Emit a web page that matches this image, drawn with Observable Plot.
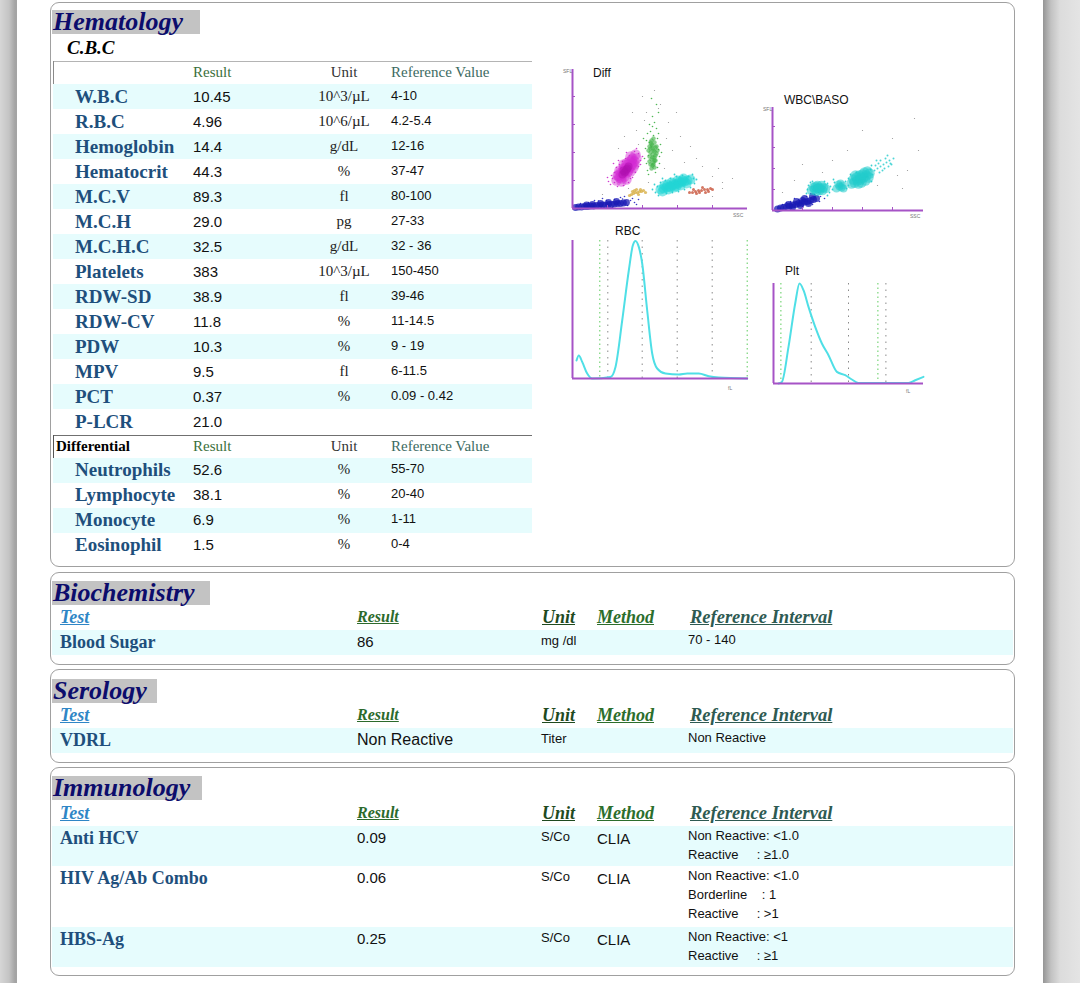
<!DOCTYPE html>
<html><head><meta charset="utf-8">
<script src="https://cdn.jsdelivr.net/npm/d3@7"></script>
<script src="https://cdn.jsdelivr.net/npm/@observablehq/plot@0.6"></script>
<style>
html,body{margin:0;padding:0;}
body{width:1080px;height:983px;overflow:hidden;background:#fff;}
#page{position:absolute;left:0;top:0;width:1080px;height:983px;overflow:hidden;
 background:linear-gradient(to right,#d6d6d6 0px,#c4c4c4 9px,#a4a4a4 15px,#a4a4a4 17px,#ffffff 17px,#ffffff 1043px,#959595 1043px,#c2c2c2 1051px,#dcdcdc 1060px,#e4e4e4 1080px);}
.box{position:absolute;border:1.5px solid #a0a0a0;border-radius:9px;box-sizing:border-box;background:transparent;}
.t{position:absolute;white-space:pre;line-height:20px;height:20px;}
.serif{font-family:"Liberation Serif","Times New Roman",serif;}
.sans{font-family:"Liberation Sans",Arial,sans-serif;}
.lab{font-family:"Liberation Serif","Times New Roman",serif;font-weight:bold;font-size:19px;color:#1e4f7c;}
.val{font-family:"Liberation Sans",Arial,sans-serif;font-size:15px;color:#111;}
.unit{font-family:"Liberation Serif","Times New Roman",serif;font-size:15px;color:#222;text-align:center;width:90px;}
.ref{font-family:"Liberation Sans",Arial,sans-serif;font-size:13px;color:#111;}
.sec{position:absolute;background:#c3c3c3;font-family:"Liberation Serif","Times New Roman",serif;font-weight:bold;font-style:italic;font-size:26px;color:#0c0c6c;line-height:24px;height:24px;padding-left:1px;overflow:visible;white-space:pre;}
.hd{font-family:"Liberation Serif","Times New Roman",serif;font-weight:bold;font-style:italic;font-size:18px;text-decoration:underline;}
.ctitle{font-family:"Liberation Sans",Arial,sans-serif;font-size:12px;color:#111;}
.tiny{position:absolute;white-space:pre;font-family:"Liberation Sans",Arial,sans-serif;font-size:5px;color:#777;line-height:6px;height:6px;}
svg.plot{background:transparent !important;}
</style>
</head><body><div id="page"></div>
<script>
// ---------------- DATA ----------------
const cbcTests   = ["W.B.C","R.B.C","Hemoglobin","Hematocrit","M.C.V","M.C.H","M.C.H.C","Platelets","RDW-SD","RDW-CV","PDW","MPV","PCT","P-LCR"];
const cbcResults = ["10.45","4.96","14.4","44.3","89.3","29.0","32.5","383","38.9","11.8","10.3","9.5","0.37","21.0"];
const cbcUnits   = ["10^3/\u00b5L","10^6/\u00b5L","g/dL","%","fl","pg","g/dL","10^3/\u00b5L","fl","%","%","fl","%",""];
const cbcRefs    = ["4-10","4.2-5.4","12-16","37-47","80-100","27-33","32 - 36","150-450","39-46","11-14.5","9 - 19","6-11.5","0.09 - 0.42",""];
const tableHeaders = ["Result","Unit","Reference Value"];

const diffTests   = ["Neutrophils","Lymphocyte","Monocyte","Eosinophil"];
const diffResults = ["52.6","38.1","6.9","1.5"];
const diffUnits   = ["%","%","%","%"];
const diffRefs    = ["55-70","20-40","1-11","0-4"];

const sectionHeaders = ["Test","Result","Unit","Method","Reference Interval"];
const bioTests = ["Blood Sugar"], bioResults = ["86"], bioUnits = ["mg /dl"], bioMethods = [""], bioRefs = [["70 - 140"]];
const seroTests = ["VDRL"], seroResults = ["Non Reactive"], seroUnits = ["Titer"], seroMethods = [""], seroRefs = [["Non Reactive"]];
const immTests   = ["Anti HCV","HIV Ag/Ab Combo","HBS-Ag"];
const immResults = ["0.09","0.06","0.25"];
const immUnits   = ["S/Co","S/Co","S/Co"];
const immMethods = ["CLIA","CLIA","CLIA"];
const immRefs    = [["Non Reactive: <1.0","Reactive     : \u22651.0"],
                    ["Non Reactive: <1.0","Borderline    : 1","Reactive     : >1"],
                    ["Non Reactive: <1","Reactive     : \u22651"]];

// Diff scatter (x: side scatter, y: fluorescence)
const diffXTicks = [35,70,105,140], diffYTicks = [28,56,84,112];
const diffBlue = [[3,1],[6,1.5],[9,1.5],[12,2],[15,2],[18,2.5],[21,2.5],[24,3],[27,3],[30,3.5],[33,3.5],[36,4],[39,4],[42,4.5],[45,5],[48,5],[51,5.5],[54,6],[20,4],[28,5],[36,6],[44,7],[14,3.5]];
const diffBlueHalo = [[8,5],[16,6],[26,7.5],[34,8],[42,9],[50,9.5],[58,8],[62,6],[60,10],[48,11],[30,10],[55,3],[40,1],[64,4],[66,9],[52,12],[22,8]];
const diffMagenta = [[44,28],[47,31],[50,34],[53,37],[56,40],[59,43],[62,47],[64,50],[48,36],[52,32],[55,44],[58,37],[60,50],[46,33],[51,40],[57,47],[54,29],[49,27],[61,41],[63,54],[53,41],[56,38],[55,36],[45,33],[49,30],[52,39],[57,42],[60,45],[59,48],[62,44],[50,36],[54,45],[47,38],[51,44],[58,52]];
const diffMagentaCore = [[50,34],[53,37],[55,40],[52,36],[54,39],[51,38],[56,42]];
const diffMagentaHalo = [[38,24],[40,30],[42,36],[44,41],[47,44],[50,47],[53,50],[57,53],[62,57],[66,55],[68,48],[66,42],[63,36],[60,31],[56,26],[51,23],[45,22],[36,27],[41,45],[54,56],[70,52],[39,33],[42,26],[46,48],[64,60],[68,44],[58,30],[35,31]];
const diffGreen = [[79,40],[80,43],[81,46],[79,49],[82,51],[80,54],[78,56],[81,58],[83,61],[80,63],[82,66],[79,68],[77,47],[84,55],[81,44],[78,60],[83,48],[80,51],[82,57],[79,64],[77,52],[84,62],[78,44],[82,41],[76,58],[85,58],[81,70],[78,66],[83,53],[77,62],[80,60],[82,48]];
const diffGreenHalo = [[75,38],[85,41],[76,53],[86,59],[77,66],[85,70],[81,73],[78,77],[84,80],[74,45],[87,52],[83,36],[76,34],[82,86],[80,92],[86,96],[73,60],[88,64],[77,84],[84,104],[79,110],[71,70],[74,68],[87,45],[72,50],[86,75],[80,82],[75,75],[89,56]];
const diffYellow = [[59,14],[61,15],[63,16],[65,16],[67,17],[69,17],[71,18],[62,18],[66,14],[68,19],[57,13],[73,16],[64,19],[60,17]];
const diffCyan = [[88,19],[91,20],[94,21],[97,22],[100,23],[103,24],[106,25],[109,26],[112,27],[115,28],[92,23],[96,19],[99,26],[102,21],[105,28],[108,23],[111,30],[114,25],[118,29],[90,17],[95,24],[101,25],[107,27],[104,22],[98,21],[110,28]];
const diffCyanHalo = [[83,16],[85,22],[88,26],[93,28],[98,30],[104,32],[110,33],[116,32],[121,30],[122,25],[118,21],[112,19],[106,17],[100,16],[94,15],[86,13],[124,29],[80,19],[82,24],[120,34],[102,34],[90,30]];
const diffRed = [[117,16],[120,16],[123,17],[126,18],[129,18],[132,19],[135,19],[138,20],[124,15],[130,21],[127,16],[136,17],[140,19],[121,19],[133,16]];
const diffMisc = [[52,72],[60,96],[70,112],[88,104],[96,86],[108,72],[100,58],[118,62],[130,42],[140,32],[150,26],[74,96],[64,78],[46,60],[112,46],[92,40],[86,100],[104,96],[146,40],[160,30],[82,118],[72,88],[94,70],[124,50],[66,64],[56,20],[76,26],[140,12],[150,20],[30,14]];

// WBC\BASO scatter
const wbXTicks = [30,60,90,120], wbYTicks = [21,42,63,84];
const wbBlue = [[5,1.5],[8,2.5],[11,3],[14,4],[17,4.5],[20,5.5],[23,6],[26,7],[29,7.5],[32,8.5],[35,9],[38,10],[41,11],[44,12],[20,3],[28,5],[36,7],[24,9],[32,12],[40,14],[16,6],[30,10]];
const wbBlueHalo = [[10,6],[18,9],[26,11],[34,14],[42,16],[48,14],[47,9],[40,6],[30,4],[52,12],[14,8],[38,17],[46,18],[22,12]];
const wbCyan1 = [[39,20],[42,21],[45,22],[48,22],[51,23],[43,24],[47,20],[41,23],[50,20],[45,25],[53,22],[44,19],[49,25],[46,23]];
const wbCyan2 = [[64,22],[67,24],[70,25],[68,27],[71,22],[66,26],[69,23]];
const wbCyan3 = [[79,27],[82,28],[85,30],[88,31],[91,33],[94,35],[97,37],[84,33],[89,28],[93,30],[87,35],[92,38],[96,33],[81,31],[86,27],[90,36],[95,39],[83,35],[88,33]];
const wbCyanSparse = [[102,40],[105,42],[108,44],[111,46],[114,48],[117,50],[106,47],[110,40],[113,52],[119,46],[104,50],[116,44],[100,36],[108,50],[121,52],[112,42],[103,45],[115,55],[107,38],[118,47]];
const wbCyanHalo = [[34,17],[36,25],[38,28],[55,27],[57,18],[60,21],[62,28],[74,22],[76,32],[78,36],[99,29],[98,41],[84,38],[61,31],[55,15],[73,29],[35,21],[58,24],[40,29],[52,29],[76,25],[99,45]];
const wbMisc = [[22,30],[60,50],[120,72],[142,92],[90,80],[30,46],[130,22],[146,60],[75,60],[135,40],[50,38],[105,25],[125,35],[10,18]];

// RBC histogram
const rbcCurve = [[4,18],[6.3,23],[9.7,16.6],[14.7,5],[19.7,0],[38,1.6],[43,11.6],[49.7,58],[56.3,108],[60.3,133],[63,137.6],[66.3,131.6],[69.7,115],[74.7,68],[79.7,25],[84.7,10],[93,5],[106.3,4],[114.7,5],[126.3,5],[136.3,2.3],[146.3,1],[174.7,0]];
const rbcGreenLines = [27.3,174.7], rbcGrayLines = [35.3,69.7,104.7,139.7];
// PLT histogram
const pltCurve = [[5,0],[8.4,1.6],[15,36.6],[21.7,80],[26,100],[30,93.3],[35,76.6],[41.7,56.6],[48.4,40],[55,28.3],[63.4,11.6],[71.7,8.3],[78.4,4],[85,0.6],[135,0.6],[141.7,3.3],[150,6.6]];
const pltGreenLines = [7.4,104.4], pltGrayLines = [37.7,75,112.4];

// ---------------- LAYOUT ----------------
const page = document.getElementById("page");
function el(cls, x, y, text, style) {
  const d = document.createElement("div");
  d.className = cls;
  if (text != null) d.textContent = text;
  d.style.left = x + "px"; d.style.top = y + "px";
  if (style) Object.assign(d.style, style);
  page.appendChild(d);
  return d;
}
function put(cls, x, cy, text, style) { return el("t " + cls, x, cy - 10, text, style); }
function box(x, y, w, h, style) { return el("box", x, y, null, Object.assign({width: w + "px", height: h + "px"}, style || {})); }
function band(x, y, w, h, color) { return el("t", x, y, null, {width: w + "px", height: h + "px", background: color}); }
const stripe = "#e6fcfd";

// boxes
box(50, 2, 965, 565);
box(50, 572, 965, 93);
box(50, 669, 965, 94);
box(50, 767, 965, 209);

// section titles
function sectionTitle(x, y, w, text) { el("sec", x, y, text, {width: w + "px"}); }
sectionTitle(52, 10, 147, "Hematology");
sectionTitle(52, 581, 157, "Biochemistry");
sectionTitle(52, 679, 104, "Serology");
sectionTitle(52, 776, 149, "Immunology");

put("serif", 67, 48, "C.B.C", {fontWeight: "bold", fontStyle: "italic", fontSize: "19px", color: "#000"});

// CBC table
const rowH = 25, cbcTop = 84;
cbcTests.forEach((t, i) => { if (i % 2 === 0) band(53, cbcTop + i * rowH, 479, rowH, stripe); });
el("t", 53, 61, null, {width: "479px", height: "1px", background: "#b4b4b4"});
el("t", 53, 61, null, {width: "1px", height: "23px", background: "#8a8a8a"});
const hdrColors = ["#3b6f3b", "#333", "#3d6b62"];
function tableHeader(cy) {
  put("serif", 193, cy, tableHeaders[0], {fontSize: "15px", color: hdrColors[0]});
  put("serif", 299, cy, tableHeaders[1], {fontSize: "15px", color: hdrColors[1], width: "90px", textAlign: "center"});
  put("serif", 391, cy, tableHeaders[2], {fontSize: "15px", color: hdrColors[2]});
}
tableHeader(72);
cbcTests.forEach((t, i) => {
  const cy = cbcTop + i * rowH + 13;
  put("lab", 75, cy, t);
  put("val", 193, cy, cbcResults[i]);
  put("unit", 299, cy - 1, cbcUnits[i]);
  put("ref", 391, cy - 1, cbcRefs[i]);
});
// Differential
el("t", 53, 435, null, {width: "479px", height: "1px", background: "#707070"});
el("t", 53, 435, null, {width: "1px", height: "23px", background: "#555"});
put("serif", 56, 446, "Differential", {fontWeight: "bold", fontSize: "15px", color: "#000"});
tableHeader(446);
const diffTop = 458;
diffTests.forEach((t, i) => {
  if (i % 2 === 0) band(53, diffTop + i * rowH, 479, rowH, stripe);
});
diffTests.forEach((t, i) => {
  const cy = diffTop + i * rowH + 12;
  put("lab", 75, cy, t);
  put("val", 193, cy, diffResults[i]);
  put("unit", 299, cy - 1, diffUnits[i]);
  put("ref", 391, cy - 1, diffRefs[i]);
});

// lower sections
const secCols = [60, 357, 542, 597, 690];
const secHdrColors = ["#2f86c6", "#2c6a2c", "#1f4a1f", "#2c6e2c", "#2e5a52"];
const secHdrSizes = [18, 16, 18, 18, 18.5];
function section(hdrY, rowTop, rowHeights, tests, results, units, methods, refs) {
  sectionHeaders.forEach((h, j) => put("hd", secCols[j], hdrY, h, {color: secHdrColors[j], fontSize: secHdrSizes[j] + "px"}));
  let y = rowTop;
  tests.forEach((t, i) => {
    const h = rowHeights[i];
    if (i % 2 === 0) band(52, y, 961, h, stripe);
    const cy = y + 12;
    put("lab", 60, cy, t, {fontSize: "18px"});
    put("val", 357, cy, results[i], {fontSize: results[i].length > 5 ? "16px" : "15px"});
    put("ref", 541, cy - 1, units[i]);
    put("val", 597, cy + 1, methods[i], {fontSize: "15px"});
    refs[i].forEach((r, k) => put("ref", 688, cy - 2 + k * 19, r));
    y += h;
  });
}
section(617, 630, [25], bioTests, bioResults, bioUnits, bioMethods, bioRefs);
section(715, 728, [25], seroTests, seroResults, seroUnits, seroMethods, seroRefs);
section(813, 826, [40, 61, 40], immTests, immResults, immUnits, immMethods, immRefs);

// ---------------- CHARTS ----------------
const purple = "#a653c6";
const xy = {x: d => d[0], y: d => d[1]};
function place(svg, left, top) {
  svg.style.position = "absolute"; svg.style.left = left + "px"; svg.style.top = top + "px";
  svg.style.background = "transparent"; svg.style.maxWidth = "none";
  page.appendChild(svg);
}
function axesMarks(xt, yt) {
  return [
    Plot.ruleY(yt, {x1: 0, x2: 3, stroke: purple, strokeWidth: 1}),
    Plot.ruleX(xt, {y1: 0, y2: 3, stroke: purple, strokeWidth: 1}),
    Plot.ruleX([0], {stroke: purple, strokeWidth: 2}),
    Plot.ruleY([0], {stroke: purple, strokeWidth: 2})
  ];
}
function cloud(data, color, r, op) { return Plot.dot(data, {...xy, r, fill: color, fillOpacity: op, stroke: "none"}); }

const diffPlot = Plot.plot({
  width: 182, height: 145, marginLeft: 4, marginRight: 3, marginTop: 2, marginBottom: 4,
  x: {domain: [0, 175], axis: null}, y: {domain: [0, 139], axis: null},
  style: {background: "transparent"},
  marks: [
    cloud(diffMisc, "#888", 0.6, 0.9),
    cloud(diffBlueHalo, "#2222c0", 0.8, 0.9),
    cloud(diffBlue, "#1a1ab4", 3.4, 0.75),
    cloud(diffMagentaHalo, "#cc22cc", 0.8, 0.9),
    cloud(diffMagenta, "#d22ad2", 5.2, 0.45),
    cloud(diffMagentaCore, "#b010b0", 4, 0.5),
    cloud(diffGreenHalo, "#3cb043", 0.8, 0.9),
    cloud(diffGreen, "#3cb043", 2.2, 0.6),
    cloud(diffYellow, "#d8b048", 1.6, 0.8),
    cloud(diffCyanHalo, "#22cccc", 0.9, 0.9),
    cloud(diffCyan, "#22d6d6", 5, 0.55),
    cloud(diffRed, "#c8553c", 1.5, 0.8),
    ...axesMarks(diffXTicks, diffYTicks)
  ]
});
place(diffPlot, 568, 67);

const wbPlot = Plot.plot({
  width: 158, height: 109, marginLeft: 4, marginRight: 3, marginTop: 2, marginBottom: 4,
  x: {domain: [0, 151], axis: null}, y: {domain: [0, 103], axis: null},
  style: {background: "transparent"},
  marks: [
    cloud(wbMisc, "#888", 0.6, 0.9),
    cloud(wbBlueHalo, "#2222c0", 0.8, 0.9),
    cloud(wbBlue, "#1a1ab4", 3.5, 0.75),
    cloud(wbCyanHalo, "#22cccc", 0.9, 0.9),
    cloud(wbCyanSparse, "#22cccc", 1, 0.8),
    cloud(wbCyan1, "#22cccc", 4.8, 0.55),
    cloud(wbCyan2, "#22cccc", 4, 0.55),
    cloud(wbCyan3, "#22cccc", 5.2, 0.55),
    ...axesMarks(wbXTicks, wbYTicks)
  ]
});
place(wbPlot, 768, 105);

function histogram(curve, greens, grays, w, h, xmax, ymax) {
  return Plot.plot({
    width: w, height: h, marginLeft: 4, marginRight: 3, marginTop: 2, marginBottom: 4,
    x: {domain: [0, xmax], axis: null}, y: {domain: [0, ymax], axis: null},
    style: {background: "transparent"},
    marks: [
      Plot.ruleX(grays, {stroke: "#8a8a8a", strokeWidth: 1, strokeDasharray: "1.5,5"}),
      Plot.ruleX(greens, {stroke: "#5ccc5c", strokeWidth: 1, strokeDasharray: "1.5,3"}),
      Plot.line(curve, {...xy, stroke: "#4fdfe6", strokeWidth: 2, curve: "monotone-x"}),
      Plot.ruleX([0], {stroke: purple, strokeWidth: 2}),
      Plot.ruleY([0], {stroke: purple, strokeWidth: 2})
    ]
  });
}
place(histogram(rbcCurve, rbcGreenLines, rbcGrayLines, 183, 144, 176, 138), 568, 238);
place(histogram(pltCurve, pltGreenLines, pltGrayLines, 157, 106, 150, 100), 769, 281);

// chart titles and tiny axis labels
put("ctitle", 593, 73, "Diff");
put("ctitle", 784, 100, "WBC\\BASO");
put("ctitle", 615, 231, "RBC");
put("ctitle", 785, 271, "Plt");
el("tiny", 563, 68, "SFL");
el("tiny", 733, 212, "SSC");
el("tiny", 763, 106, "SFL");
el("tiny", 910, 213, "SSC");
el("tiny", 728, 385, "fL");
el("tiny", 906, 388, "fL");
</script>
</body></html>
